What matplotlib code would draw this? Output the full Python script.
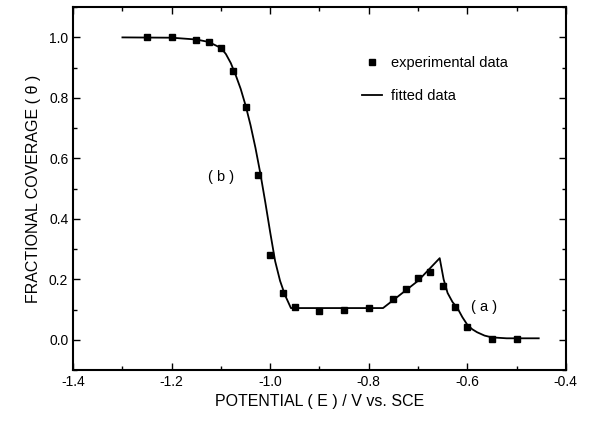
import matplotlib
matplotlib.use('Agg')
import matplotlib.pyplot as plt
from matplotlib.ticker import MultipleLocator

plt.rcParams['font.family'] = ['Liberation Sans', 'DejaVu Sans']
plt.rcParams['axes.unicode_minus'] = False

# experimental points
exp_E = [-1.25, -1.20, -1.15, -1.125, -1.10, -1.075, -1.05, -1.025, -1.00,
         -0.975, -0.95, -0.90, -0.85, -0.80, -0.75, -0.725, -0.70, -0.675,
         -0.65, -0.625, -0.60, -0.55, -0.50]
exp_theta = [1.0, 1.0, 0.99, 0.985, 0.965, 0.89, 0.77, 0.545, 0.28,
             0.155, 0.11, 0.095, 0.10, 0.105, 0.135, 0.168, 0.206, 0.224,
             0.178, 0.108, 0.041, 0.004, 0.004]

# fitted curve
fit_E = [-1.30, -1.20, -1.15, -1.125, -1.10, -1.09, -1.08, -1.07, -1.06,
         -1.05, -1.04, -1.03, -1.02, -1.01, -1.00, -0.99, -0.98, -0.97,
         -0.958, -0.90, -0.80, -0.771, -0.70, -0.656, -0.648, -0.64, -0.63,
         -0.62, -0.61, -0.60, -0.59, -0.58, -0.565, -0.55, -0.52, -0.455]
fit_theta = [1.0, 0.999, 0.993, 0.985, 0.965, 0.945, 0.915, 0.875, 0.83,
             0.775, 0.71, 0.635, 0.55, 0.455, 0.355, 0.26, 0.195, 0.148,
             0.105, 0.105, 0.105, 0.105, 0.195, 0.27, 0.20, 0.155, 0.125,
             0.105, 0.075, 0.05, 0.035, 0.025, 0.014, 0.008, 0.005, 0.005]

fig = plt.figure(figsize=(5.9, 4.21), dpi=100)
ax = fig.add_axes([0.124, 0.121, 0.835, 0.862])

ax.plot(fit_E, fit_theta, color='black', lw=1.3, label='fitted data')
ax.plot(exp_E, exp_theta, ls='none', marker='s', ms=5, color='black',
        label='experimental data')

ax.set_xlim(-1.4, -0.4)
ax.set_ylim(-0.1, 1.1)
ax.xaxis.set_major_locator(MultipleLocator(0.2))
ax.xaxis.set_minor_locator(MultipleLocator(0.1))
ax.yaxis.set_major_locator(MultipleLocator(0.2))
ax.yaxis.set_minor_locator(MultipleLocator(0.1))
ax.tick_params(which='both', direction='in', top=True, right=True,
               labelsize=10, width=1)
ax.tick_params(which='major', length=5)
ax.tick_params(which='minor', length=3)
for s in ax.spines.values():
    s.set_linewidth(1.5)

ax.set_xlabel('POTENTIAL ( E ) / V vs. SCE', fontsize=11.5, labelpad=4)
ax.set_ylabel('FRACTIONAL COVERAGE ( \u03b8 )', fontsize=11.5, labelpad=6)

ax.text(-1.10, 0.54, '( b )', fontsize=10.5, ha='center', va='center')
ax.text(-0.565, 0.108, '( a )', fontsize=10.5, ha='center', va='center')

h, l = ax.get_legend_handles_labels()
ax.legend([h[1], h[0]], [l[1], l[0]], loc='upper left',
          bbox_to_anchor=(0.586, 0.865), frameon=False, fontsize=10.5,
          handlelength=1.4, handletextpad=0.6, labelspacing=1.3,
          borderpad=0, borderaxespad=0)

fig.savefig('out.png', dpi=100)
